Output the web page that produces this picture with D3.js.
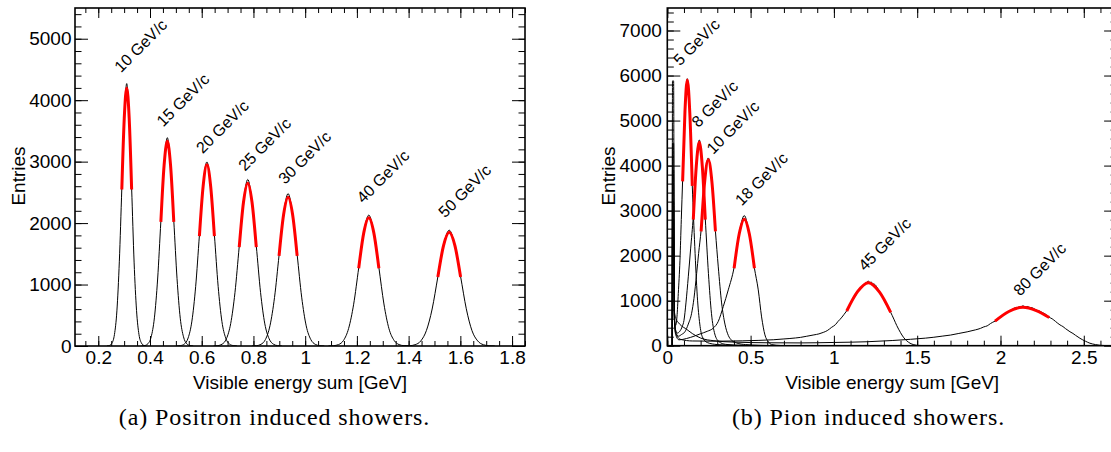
<!DOCTYPE html>
<html><head><meta charset="utf-8">
<script src="https://cdn.jsdelivr.net/npm/d3@7/dist/d3.min.js"></script>
<style>body{margin:0;background:#fff}</style>
</head><body>
<svg id="c" width="1111" height="452"></svg>
<script>
// ---------- DATA ----------
// (a) Positron induced showers: histogram points [energy GeV, entries]
const posLabels = ["10 GeV/c","15 GeV/c","20 GeV/c","25 GeV/c","30 GeV/c","40 GeV/c","50 GeV/c"];
const pos10 = [[0.234,1],[0.2435,9],[0.253,47],[0.2625,186],[0.272,572],[0.2815,1380],[0.291,2560],[0.3005,3720],[0.310,4270],[0.3195,3700],[0.329,2570],[0.3385,1365],[0.348,575],[0.3575,184],[0.367,48],[0.3765,9],[0.386,1]];
const pos15 = [[0.367,1],[0.3795,7],[0.392,37],[0.4045,148],[0.417,458],[0.4295,1090],[0.442,2030],[0.4545,2950],[0.467,3390],[0.4795,2930],[0.492,2040],[0.5045,1100],[0.517,452],[0.5295,150],[0.542,37],[0.5545,7],[0.567,1]];
const pos20 = [[0.504,1],[0.5185,7],[0.533,33],[0.5475,131],[0.562,405],[0.5765,965],[0.591,1800],[0.6055,2620],[0.620,2995],[0.6345,2610],[0.649,1810],[0.6635,970],[0.678,400],[0.6925,132],[0.707,33],[0.7215,7],[0.736,1]];
const pos25 = [[0.646,1],[0.6625,6],[0.679,30],[0.6955,118],[0.712,365],[0.7285,868],[0.745,1620],[0.7615,2350],[0.778,2710],[0.7945,2345],[0.811,1630],[0.8275,872],[0.844,360],[0.8605,119],[0.877,30],[0.8935,6],[0.910,1]];
const pos30 = [[0.794,1],[0.8115,5],[0.829,27],[0.8465,107],[0.864,332],[0.8815,790],[0.899,1475],[0.9165,2150],[0.934,2480],[0.9515,2140],[0.969,1485],[0.9865,795],[1.004,328],[1.0215,108],[1.039,27],[1.0565,5],[1.074,1]];
const pos40 = [[1.090,1],[1.1095,5],[1.129,23],[1.1485,92],[1.168,286],[1.1875,680],[1.207,1270],[1.2265,1850],[1.246,2130],[1.2655,1845],[1.285,1278],[1.3045,684],[1.324,282],[1.3435,93],[1.363,23],[1.3825,5],[1.402,1]];
const pos50 = [[1.381,1],[1.403,4],[1.425,21],[1.447,82],[1.469,254],[1.491,602],[1.513,1125],[1.535,1640],[1.557,1885],[1.579,1628],[1.601,1130],[1.623,606],[1.645,250],[1.667,83],[1.689,21],[1.711,4],[1.733,1]];
// Gaussian fit curves (red)
const posFit10 = [[0.291,2547],[0.3005,3707],[0.310,4200],[0.3195,3707],[0.329,2547]];
const posFit15 = [[0.442,2020],[0.4545,2939],[0.467,3330],[0.4795,2939],[0.492,2020]];
const posFit20 = [[0.591,1789],[0.6055,2603],[0.620,2950],[0.6345,2603],[0.649,1789]];
const posFit25 = [[0.745,1607],[0.7615,2339],[0.778,2650],[0.7945,2339],[0.811,1607]];
const posFit30 = [[0.899,1468],[0.9165,2136],[0.934,2420],[0.9515,2136],[0.969,1468]];
const posFit40 = [[1.207,1265],[1.2265,1841],[1.246,2086],[1.2655,1841],[1.285,1265]];
const posFit50 = [[1.513,1121],[1.535,1632],[1.557,1849],[1.579,1632],[1.601,1121]];
const posLabelE = [0.288,0.451,0.604,0.767,0.922,1.225,1.541];
const posLabelN = [4439,3556,3122,2834,2618,2309,2076];
const posXTicks = [0.2,0.4,0.6,0.8,1.0,1.2,1.4,1.6,1.8];
const posYTicks = [0,1000,2000,3000,4000,5000];

// (b) Pion induced showers
const pionLabels = ["5 GeV/c","8 GeV/c","10 GeV/c","18 GeV/c","45 GeV/c","80 GeV/c"];
const pi5 = [[0,0],[0.029,0],[0.031,2400],[0.038,2400],[0.042,620],[0.050,450],[0.058,640],[0.066,1160],[0.076,1900],[0.084,2800],[0.092,3680],[0.106,5230],[0.120,5930],[0.135,5190],[0.150,3550],[0.165,2200],[0.180,1100],[0.195,480],[0.210,200],[0.240,70],[0.300,25],[0.400,8],[0.600,0],[2.7,0]];
const pi8 = [[0,0],[0.029,0],[0.031,2800],[0.038,2800],[0.042,700],[0.050,350],[0.060,280],[0.075,320],[0.090,430],[0.100,560],[0.112,950],[0.126,1530],[0.140,2150],[0.156,2870],[0.174,4010],[0.192,4570],[0.210,4000],[0.228,2820],[0.247,1600],[0.265,720],[0.285,260],[0.310,90],[0.350,30],[0.450,8],[0.600,0],[2.7,0]];
const pi10 = [[0,0],[0.029,0],[0.031,3200],[0.038,3200],[0.042,800],[0.050,320],[0.066,210],[0.086,250],[0.106,310],[0.126,480],[0.146,720],[0.160,1050],[0.176,1600],[0.188,2050],[0.203,2570],[0.2245,3670],[0.246,4170],[0.2675,3640],[0.289,2540],[0.306,1750],[0.326,950],[0.346,480],[0.366,230],[0.386,120],[0.416,60],[0.470,25],[0.550,10],[0.700,0],[2.7,0]];
const pi18 = [[0,0],[0.029,0],[0.031,3900],[0.038,3900],[0.042,700],[0.050,250],[0.070,130],[0.116,160],[0.160,210],[0.196,260],[0.240,320],[0.276,390],[0.306,540],[0.336,870],[0.366,1240],[0.401,1740],[0.4315,2490],[0.462,2890],[0.4925,2470],[0.523,1720],[0.546,1240],[0.566,640],[0.586,240],[0.606,90],[0.626,25],[0.680,5],[0.800,0],[2.7,0]];
const pi45 = [[0,0],[0.029,0],[0.031,4500],[0.038,4500],[0.042,600],[0.050,280],[0.080,140],[0.150,105],[0.300,100],[0.450,108],[0.550,118],[0.636,132],[0.700,150],[0.736,160],[0.770,172],[0.800,185],[0.837,210],[0.880,240],[0.910,262],[0.936,295],[0.960,335],[0.987,410],[1.010,470],[1.025,540],[1.037,585],[1.060,690],[1.077,775],[1.090,840],[1.100,925],[1.120,1055],[1.130,1110],[1.142,1195],[1.155,1245],[1.165,1300],[1.175,1322],[1.185,1372],[1.195,1398],[1.207,1438],[1.215,1405],[1.225,1410],[1.235,1372],[1.245,1362],[1.260,1290],[1.274,1200],[1.287,1130],[1.300,1010],[1.320,880],[1.341,740],[1.360,590],[1.377,450],[1.400,290],[1.417,190],[1.437,110],[1.457,55],[1.480,22],[1.510,6],[1.560,0],[2.7,0]];
const pi80 = [[0,0],[0.029,0],[0.031,5880],[0.038,5880],[0.042,780],[0.052,600],[0.065,520],[0.085,440],[0.110,380],[0.150,270],[0.200,170],[0.280,110],[0.400,80],[0.600,65],[0.800,62],[1.000,72],[1.200,88],[1.350,115],[1.460,142],[1.550,168],[1.600,188],[1.650,212],[1.700,236],[1.750,272],[1.800,308],[1.850,352],[1.880,385],[1.900,418],[1.920,440],[1.940,492],[1.967,545],[1.985,570],[2.000,625],[2.015,668],[2.030,725],[2.045,742],[2.060,785],[2.075,815],[2.090,845],[2.100,832],[2.110,862],[2.125,870],[2.135,885],[2.150,862],[2.160,872],[2.175,850],[2.190,842],[2.205,815],[2.220,782],[2.235,768],[2.250,738],[2.270,700],[2.293,630],[2.310,598],[2.330,540],[2.357,462],[2.375,425],[2.390,380],[2.417,310],[2.435,272],[2.450,232],[2.477,165],[2.510,100],[2.537,55],[2.570,25],[2.600,8],[2.650,0],[2.7,0]];
const piFit5 = [[0.092,3650],[0.106,5200],[0.120,5900],[0.135,5180],[0.150,3550]];
const piFit8 = [[0.156,2800],[0.174,3990],[0.192,4520],[0.210,3990],[0.228,2800]];
const piFit10 = [[0.203,2540],[0.2245,3650],[0.246,4130],[0.2675,3650],[0.289,2540]];
const piFit18 = [[0.401,1720],[0.4315,2480],[0.462,2810],[0.4925,2480],[0.523,1720]];
const piFit45 = [[1.077,770],[1.142,1200],[1.207,1400],[1.274,1190],[1.341,740]];
const piFit80 = [[1.967,545],[2.050,760],[2.135,855],[2.215,780],[2.293,625]];
const pionLabelE = [0.076,0.186,0.276,0.447,1.187,2.117];
const pionLabelN = [6200,4831,4238,3089,1644,1089];
const pionXTicks = [0,0.5,1,1.5,2,2.5];
const pionYTicks = [0,1000,2000,3000,4000,5000,6000,7000];

const xTitle = "Visible energy sum [GeV]";
const yTitle = "Entries";
const captions = ["(a) Positron induced showers.", "(b) Pion induced showers."];

// ---------- DRAWING ----------
const svg = d3.select("#c");
svg.append("rect").attr("width",1111).attr("height",452).attr("fill","#fff");
const SANS = "'Liberation Sans', Arial, Helvetica, sans-serif";

function drawPanel(o) {
  const g = svg.append("g");
  const [xl, xr] = o.x.range();
  const [yb, yt] = o.y.range();
  svg.append("clipPath").attr("id", o.id).append("rect")
    .attr("x", xl).attr("y", yt).attr("width", xr - xl).attr("height", yb - yt);
  const line = d3.line().x(d => o.x(d[0])).y(d => o.y(d[1])).curve(d3.curveMonotoneX);
  const plot = g.append("g").attr("clip-path", `url(#${o.id})`);
  o.hists.forEach(h => plot.append("path").attr("d", line(h))
    .attr("fill", "none").attr("stroke", "#000").attr("stroke-width", 1));
  o.fits.forEach(f => plot.append("path").attr("d", line(f))
    .attr("fill", "none").attr("stroke", "#ff0000").attr("stroke-width", 3).attr("stroke-linecap","butt"));

  function axis(gen, tr, vals, size, fmt, pad) {
    const a = g.append("g").attr("transform", tr)
      .call(gen.tickValues(vals).tickSize(size).tickPadding(pad).tickFormat(fmt));
    a.select(".domain").remove();
    a.attr("font-family", SANS).attr("font-size", 19);
    a.selectAll("line").attr("stroke", "#000").attr("stroke-width", 1);
    return a;
  }
  const none = () => "";
  const fy = d3.format("d");
  const fx = d => String(+d.toFixed(2));
  axis(d3.axisBottom(o.x), `translate(0,${yb})`, o.xMinor, -5, none, 0);
  axis(d3.axisBottom(o.x), `translate(0,${yb})`, o.xTicks, -10, fx, 5);
  axis(d3.axisTop(o.x), `translate(0,${yt})`, o.xMinor, -5, none, 0);
  axis(d3.axisTop(o.x), `translate(0,${yt})`, o.xTicks, -10, none, 0);
  axis(d3.axisLeft(o.y), `translate(${xl},0)`, o.yMinor, -6.5, none, 0);
  axis(d3.axisLeft(o.y), `translate(${xl},0)`, o.yTicks, -13, fy, o.yPad);
  axis(d3.axisRight(o.y), `translate(${xr},0)`, o.yMinor, -6.5, none, 0);
  axis(d3.axisRight(o.y), `translate(${xr},0)`, o.yTicks, -13, none, 0);

  g.append("rect").attr("x", xl).attr("y", yt).attr("width", xr - xl).attr("height", yb - yt)
    .attr("fill", "none").attr("stroke", "#000").attr("stroke-width", 1.6);

  o.labels.forEach((t, i) => {
    const px = o.x(o.labelE[i]), py = o.y(o.labelN[i]);
    g.append("text").attr("transform", `translate(${px},${py}) rotate(-45)`)
      .attr("font-family", SANS).attr("font-size", 16).attr("fill", "#000").text(t);
  });
  g.append("text").attr("x", (xl + Math.min(xr, 1117)) / 2).attr("y", 388.5)
    .attr("text-anchor", "middle").attr("font-family", SANS).attr("font-size", 19).text(xTitle);
  g.append("text").attr("transform", `translate(${o.yTitleX},176) rotate(-90)`)
    .attr("text-anchor", "middle").attr("font-family", SANS).attr("font-size", 19).text(yTitle);
  g.append("text").attr("x", o.capX).attr("y", 425).attr("text-anchor", "middle")
    .attr("font-family", "'Liberation Serif', 'Times New Roman', serif").attr("font-size", 24)
    .attr("letter-spacing", 0.9).text(o.caption);
}

drawPanel({
  id: "clipA",
  x: d3.scaleLinear().domain([0.11, 1.85]).range([75, 525]),
  y: d3.scaleLinear().domain([0, 5500]).range([346, 8]),
  hists: [pos10, pos15, pos20, pos25, pos30, pos40, pos50],
  fits: [posFit10, posFit15, posFit20, posFit25, posFit30, posFit40, posFit50],
  labels: posLabels, labelE: posLabelE, labelN: posLabelN,
  xTicks: posXTicks, xMinor: d3.range(0.15, 1.851, 0.05),
  yTicks: posYTicks, yMinor: d3.range(0, 5401, 200),
  yPad: 3.5, yTitleX: 25, capX: 274.5, caption: captions[0]
});
drawPanel({
  id: "clipB",
  x: d3.scaleLinear().domain([0, 2.7]).range([667.3, 1117.1]),
  y: d3.scaleLinear().domain([0, 7500]).range([345.7, 8]),
  hists: [pi5, pi8, pi10, pi18, pi45, pi80],
  fits: [piFit5, piFit8, piFit10, piFit18, piFit45, piFit80],
  labels: pionLabels, labelE: pionLabelE, labelN: pionLabelN,
  xTicks: pionXTicks, xMinor: d3.range(0, 2.701, 0.1),
  yTicks: pionYTicks, yMinor: d3.range(0, 7401, 200),
  yPad: 5.5, yTitleX: 615, capX: 868.5, caption: captions[1]
});
</script>
</body></html>
